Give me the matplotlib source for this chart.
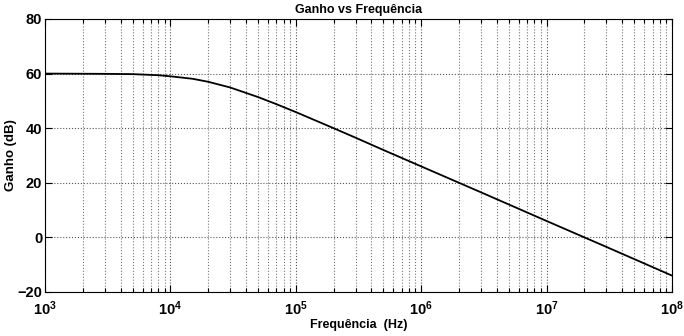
import matplotlib
matplotlib.use("Agg")
import matplotlib.pyplot as plt
from matplotlib.ticker import LogLocator, FixedLocator

plt.rcParams['font.family'] = ['Liberation Sans', 'DejaVu Sans']
plt.rcParams['font.weight'] = 'bold'
plt.rcParams['mathtext.fontset'] = 'custom'
plt.rcParams['mathtext.rm'] = 'Liberation Sans:bold'
plt.rcParams['mathtext.it'] = 'Liberation Sans:bold'
plt.rcParams['mathtext.bf'] = 'Liberation Sans:bold'

# frequency response of the amplifier (Hz, dB)
freq = [1e3, 3e3, 5e3, 8e3, 1e4, 1.5e4, 2e4, 3e4, 5e4, 7e4,
        1e5, 2e5, 3e5, 5e5, 1e6, 3e6, 1e7, 3e7, 1e8]
gain = [60.0, 59.9, 59.8, 59.4, 59.0, 58.1, 57.0, 54.9, 51.4, 48.8,
        45.9, 40.0, 36.5, 32.0, 26.0, 16.5, 6.0, -3.5, -14.0]

yticks = [-20, 0, 20, 40, 60, 80]

fig = plt.figure(figsize=(6.84, 3.36), dpi=100)
ax = fig.add_axes([0.0658, 0.131, 0.9167, 0.8125])

ax.semilogx(freq, gain, color='black', linewidth=1.3)
ax.set_xlim(1e3, 1e8)
ax.set_ylim(-20, 80)
ax.yaxis.set_major_locator(FixedLocator(yticks))
ax.xaxis.set_major_locator(LogLocator(base=10, numticks=10))
ax.xaxis.set_minor_locator(LogLocator(base=10, subs=range(2, 10), numticks=20))

ax.grid(True, which='major', linestyle=':', color='#555555', linewidth=0.8)
ax.grid(True, which='minor', axis='x', linestyle=':', color='#777777', linewidth=0.8)

ax.tick_params(which='both', direction='in', top=True, right=True,
               width=0.8, colors='black')
ax.tick_params(which='major', length=5)
ax.tick_params(which='minor', length=3)
ax.tick_params(axis='y', labelsize=10.5, pad=2)
ax.tick_params(axis='x', labelsize=10.5, pad=5)
for s in ax.spines.values():
    s.set_linewidth(0.8)

ax.set_title('Ganho vs Frequência', fontsize=9, fontweight='bold', pad=4)
ax.set_xlabel('Frequência  (Hz)', fontsize=9, fontweight='bold', labelpad=1)
ax.set_ylabel('Ganho (dB)', fontsize=9.5, fontweight='bold')
ax.yaxis.set_label_coords(-0.045, 0.5)

fig.savefig('out.png', dpi=100)
